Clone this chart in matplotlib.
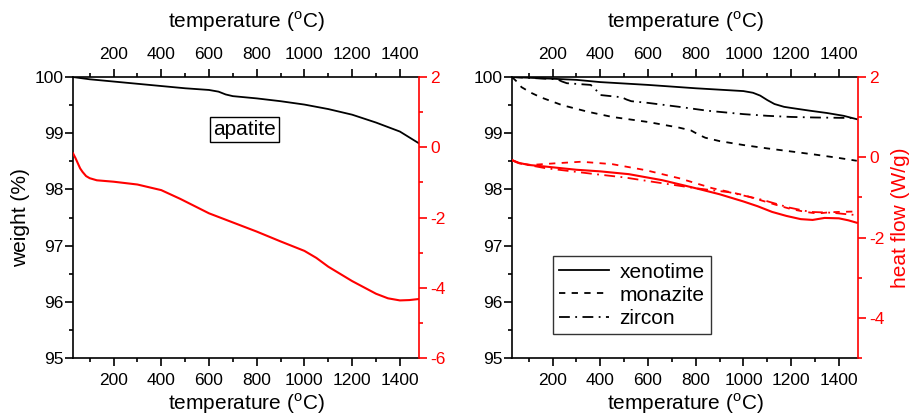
import numpy as np
import matplotlib
matplotlib.use("Agg")
import matplotlib.pyplot as plt
from matplotlib.ticker import MultipleLocator

plt.rcParams["font.family"] = ["Liberation Sans", "DejaVu Sans"]
plt.rcParams["mathtext.fontset"] = "custom"
plt.rcParams["mathtext.rm"] = "Liberation Sans"
plt.rcParams["axes.unicode_minus"] = False

# apatite: weight and heat flow vs temperature
apa_w_t = [30, 100, 200, 300, 400, 500, 600, 640, 670, 700, 800, 900, 1000, 1100, 1200, 1300, 1400, 1480]
apa_w = [100.0, 99.96, 99.92, 99.88, 99.84, 99.80, 99.77, 99.74, 99.69, 99.66, 99.62, 99.57, 99.51,
         99.43, 99.33, 99.19, 99.03, 98.82]
apa_h_t = [30, 40, 50, 60, 70, 85, 100, 130, 200, 300, 400, 480, 600, 700, 800, 900, 1000, 1050, 1100,
           1200, 1300, 1350, 1400, 1440, 1480]
apa_h = [-0.17, -0.30, -0.45, -0.60, -0.70, -0.82, -0.88, -0.94, -0.98, -1.06, -1.22, -1.47, -1.88, -2.14,
         -2.40, -2.68, -2.95, -3.15, -3.40, -3.81, -4.17, -4.30, -4.36, -4.35, -4.32]

# xenotime
xen_w_t = [30, 200, 300, 400, 600, 800, 1000, 1040, 1070, 1100, 1130, 1170, 1200, 1280, 1350, 1420, 1475]
xen_w = [100.0, 99.97, 99.95, 99.91, 99.86, 99.80, 99.75, 99.72, 99.67, 99.59, 99.52, 99.47, 99.45, 99.40,
         99.36, 99.31, 99.25]
xen_h_t = [30, 60, 100, 170, 300, 400, 520, 660, 800, 900, 1000, 1060, 1120, 1180, 1240, 1290, 1340, 1400,
           1440, 1475]
xen_h = [-0.07, -0.14, -0.19, -0.23, -0.31, -0.35, -0.42, -0.57, -0.77, -0.92, -1.10, -1.22, -1.36, -1.46,
         -1.54, -1.56, -1.51, -1.52, -1.57, -1.63]

# monazite
mon_w_t = [30, 50, 70, 110, 150, 240, 350, 450, 600, 730, 780, 810, 840, 900, 1000, 1100, 1210, 1300, 1400, 1475]
mon_w = [100.0, 99.92, 99.82, 99.72, 99.64, 99.50, 99.38, 99.29, 99.20, 99.10, 99.05, 98.98, 98.92, 98.86,
         98.79, 98.73, 98.67, 98.62, 98.56, 98.51]
mon_h_t = [30, 60, 110, 210, 320, 450, 590, 730, 870, 1000, 1140, 1200, 1260, 1310, 1360, 1400, 1475]
mon_h = [-0.07, -0.15, -0.19, -0.15, -0.11, -0.17, -0.32, -0.52, -0.77, -0.94, -1.19, -1.29, -1.36, -1.40,
         -1.37, -1.36, -1.35]

# zircon
zir_w_t = [30, 220, 240, 260, 360, 380, 400, 490, 510, 530, 600, 730, 850, 1000, 1100, 1200, 1300, 1475]
zir_w = [100.0, 99.96, 99.92, 99.89, 99.86, 99.78, 99.68, 99.64, 99.60, 99.57, 99.54, 99.47, 99.40, 99.34,
         99.31, 99.29, 99.28, 99.27]
zir_h_t = [30, 60, 170, 380, 500, 620, 800, 940, 1080, 1190, 1280, 1370, 1420, 1475]
zir_h = [-0.07, -0.15, -0.27, -0.42, -0.50, -0.61, -0.77, -0.87, -1.06, -1.25, -1.36, -1.38, -1.41, -1.44]

TEMP_LABEL = r"temperature ($^\mathrm{o}$C)"
RED = "#ff0000"
DASHED = (0, (3.5, 3.5))
DASHDOT = (0, (6, 3, 1, 3))
TICK_FS = 12.5
LABEL_FS = 15


def style_axes(fig, ax, axr, hf_lim):
    ax.set_xlim(30, 1480)
    ax.set_ylim(95, 100)
    ax.xaxis.set_major_locator(MultipleLocator(200))
    ax.xaxis.set_minor_locator(MultipleLocator(100))
    ax.yaxis.set_major_locator(MultipleLocator(1))
    ax.yaxis.set_minor_locator(MultipleLocator(0.5))
    ax.tick_params(which="both", direction="out", top=True, labeltop=True, right=False,
                   labelsize=TICK_FS, width=1.2)
    ax.tick_params(which="major", length=6)
    ax.tick_params(which="minor", length=3)
    ax.tick_params(axis="x", which="major", pad=5)
    ax.tick_params(axis="y", which="major", pad=1)
    ax.set_xlabel(TEMP_LABEL, fontsize=LABEL_FS, labelpad=2)
    # same label above the top tick labels
    box = ax.get_position()
    fig.text(box.x0 + box.width / 2, 1 - 22 / 418, TEMP_LABEL, fontsize=LABEL_FS,
             ha="center", va="center")
    for s in ("left", "bottom", "top"):
        ax.spines[s].set_linewidth(1.2)
    ax.spines["right"].set_visible(False)

    axr.set_ylim(*hf_lim)
    axr.yaxis.set_major_locator(MultipleLocator(2))
    axr.yaxis.set_minor_locator(MultipleLocator(1))
    axr.tick_params(which="both", direction="out", colors=RED, labelsize=TICK_FS, width=1.2, pad=2)
    axr.tick_params(which="major", length=6)
    axr.tick_params(which="minor", length=3)
    for s in ("left", "bottom", "top"):
        axr.spines[s].set_visible(False)
    axr.spines["right"].set_color(RED)
    axr.spines["right"].set_linewidth(1.2)


fig = plt.figure(figsize=(9.19, 4.18), dpi=100)

# left panel: apatite
ax1 = fig.add_axes([0.0794, 0.1435, 0.3765, 0.6722])
ax1r = ax1.twinx()
ax1.plot(apa_w_t, apa_w, color="black", lw=1.3)
ax1r.plot(apa_h_t, apa_h, color=RED, lw=1.5)
style_axes(fig, ax1, ax1r, (-6, 2))
ax1.set_ylabel("weight (%)", fontsize=LABEL_FS, labelpad=3)
ax1.text(750, 99.06, "apatite", fontsize=LABEL_FS, ha="center", va="center",
         bbox=dict(boxstyle="square,pad=0.15", facecolor="white", edgecolor="black", lw=1))

# right panel: xenotime, monazite, zircon
ax2 = fig.add_axes([0.5571, 0.1435, 0.3765, 0.6722])
ax2r = ax2.twinx()
ax2.plot(xen_w_t, xen_w, color="black", lw=1.3, label="xenotime")
ax2.plot(mon_w_t, mon_w, color="black", lw=1.3, ls=DASHED, label="monazite")
ax2.plot(zir_w_t, zir_w, color="black", lw=1.3, ls=DASHDOT, label="zircon")
ax2r.plot(xen_h_t, xen_h, color=RED, lw=1.5)
ax2r.plot(mon_h_t, mon_h, color=RED, lw=1.3, ls=DASHED)
ax2r.plot(zir_h_t, zir_h, color=RED, lw=1.3, ls=DASHDOT)
style_axes(fig, ax2, ax2r, (-5, 2))
ax2r.set_ylabel("heat flow (W/g)", fontsize=LABEL_FS, color=RED, labelpad=5)

leg = ax2.legend(loc="lower left", bbox_to_anchor=(0.118, 0.085), borderaxespad=0,
                 fontsize=LABEL_FS, frameon=True, fancybox=False, handlelength=2.4,
                 labelspacing=0.2, borderpad=0.3, handletextpad=0.5)
leg.get_frame().set_edgecolor("black")
leg.get_frame().set_linewidth(1)

fig.savefig("out.png", dpi=100)
